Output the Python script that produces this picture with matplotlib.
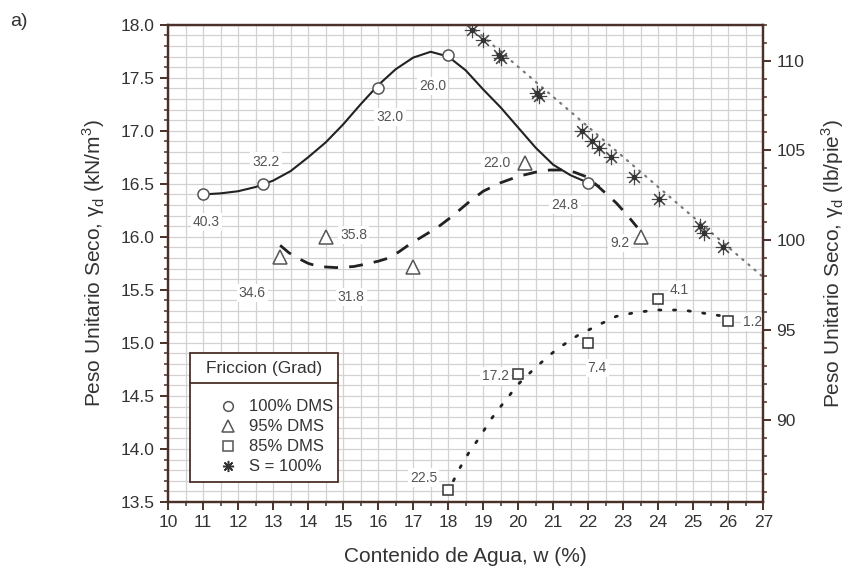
import numpy as np
import matplotlib
matplotlib.use("Agg")
from matplotlib import pyplot as plt
from matplotlib.patches import Rectangle

plt.rcParams['font.family'] = ['Liberation Sans', 'DejaVu Sans']
plt.rcParams['mathtext.fontset'] = 'custom'
plt.rcParams['mathtext.rm'] = 'Liberation Sans'

## measured points (w %, kN/m3)
w100 = [11.0, 12.7, 16.0, 18.0, 22.0]
g100 = [16.40, 16.50, 17.40, 17.71, 16.51]
lab100 = ['40.3', '32.2', '32.0', '26.0', '24.8']

w95 = [13.2, 14.5, 17.0, 20.2, 23.5]
g95 = [15.81, 16.00, 15.72, 16.70, 16.00]
lab95 = ['34.6', '35.8', '31.8', '22.0', '9.2']

w85 = [18.0, 20.0, 22.0, 24.0, 26.0]
g85 = [13.61, 14.71, 15.00, 15.41, 15.21]
lab85 = ['22.5', '17.2', '7.4', '4.1', '1.2']

wsat = [18.69, 19.0, 19.45, 19.5, 20.54, 20.6, 21.83, 22.1, 22.3, 22.66, 23.3, 24.03, 25.2, 25.3, 25.86]
gsat = [17.95, 17.86, 17.71, 17.69, 17.36, 17.33, 17.00, 16.90, 16.84, 16.75, 16.56, 16.36, 16.10, 16.04, 15.90]

## curves
c100_w = [11.0, 11.5, 12.0, 12.5, 13.0, 13.5, 14.0, 14.5, 15.0, 15.5, 16.0, 16.5, 17.0, 17.5, 18.0,
          18.5, 19.0, 19.5, 20.0, 20.5, 21.0, 21.5, 22.0, 22.3]
c100_g = [16.40, 16.41, 16.43, 16.47, 16.53, 16.62, 16.75, 16.89, 17.06, 17.25, 17.43, 17.58, 17.69, 17.745, 17.70,
          17.57, 17.39, 17.22, 17.03, 16.84, 16.68, 16.58, 16.51, 16.48]

c95_w = [13.2, 13.45, 13.7, 14.0, 14.3, 14.8, 15.3, 15.6, 16.0, 16.3, 16.6, 16.9, 17.3, 17.7, 18.1, 18.6,
         19.0, 19.5, 20.0, 20.5, 20.9, 21.3, 21.6, 22.0, 22.3, 22.8, 23.1, 23.4]
c95_g = [15.92, 15.85, 15.80, 15.75, 15.72, 15.71, 15.72, 15.74, 15.77, 15.80, 15.86, 15.93, 16.01, 16.09, 16.19, 16.33,
         16.43, 16.51, 16.57, 16.61, 16.63, 16.63, 16.61, 16.56, 16.47, 16.32, 16.21, 16.09]

c85_w = [18.15, 18.35, 18.6, 18.9, 19.2, 19.5, 20.0, 20.5, 21.1, 21.7, 22.3, 22.8, 23.4, 24.0, 24.7, 25.3, 25.9]
c85_g = [13.70, 13.83, 13.97, 14.11, 14.27, 14.40, 14.61, 14.77, 14.94, 15.07, 15.17, 15.25, 15.29, 15.31, 15.31, 15.28, 15.25]

csat_w = [18.6, 27.0]
csat_g = [18.0, 15.62]

xticks = list(range(10, 28))
yticks = [13.5, 14.0, 14.5, 15.0, 15.5, 16.0, 16.5, 17.0, 17.5, 18.0]
rticks = [90, 95, 100, 105, 110]

frame = '#4a3028'
txt = '#333333'

fig = plt.figure(figsize=(8.49, 5.75), dpi=100)
ax = fig.add_axes([0.198, 0.127, 0.701, 0.830])

ax.set_xlim(10, 27)
ax.set_ylim(13.5, 18.0)
ax.set_xticks(xticks)
ax.set_xticks(np.arange(10, 27.01, 0.5), minor=True)
ax.set_yticks(yticks)
ax.set_yticks(np.arange(13.5, 18.001, 0.1), minor=True)
ax.set_yticklabels(['%.1f' % v for v in yticks])
ax.grid(True, which='both', color='#d2d2d2', lw=0.9)
ax.set_axisbelow(True)

ax.plot(c100_w, c100_g, '-', color='#222222', lw=1.5)
ax.plot(c95_w, c95_g, color='#222222', lw=2.0, dashes=(5, 4))
ax.plot(c85_w, c85_g, color='#222222', lw=2.0, linestyle=(0, (0.8, 4.5)), dash_capstyle='round')
ax.plot(csat_w, csat_g, color='#777777', lw=1.6, linestyle=(0, (0.6, 3)), dash_capstyle='round')

ax.plot(w100, g100, 'o', mfc='white', mec='#555555', ms=8, mew=1.1, zorder=5)
ax.plot(w95, g95, '^', mfc='white', mec='#555555', ms=10, mew=1.1, zorder=5)
ax.plot(w85, g85, 's', mfc='white', mec='#333333', ms=7, mew=1.1, zorder=5)
ax.plot(wsat, gsat, marker=(8, 2, 0), ls='none', color='#444444', ms=11, mew=0.8, zorder=5)
ax.plot(wsat, gsat, 'o', ls='none', color='#333333', ms=3, zorder=5)

## labels next to points
box = dict(facecolor='white', edgecolor='none', pad=1.5)
pos100 = [(11.1, 16.14), (12.8, 16.71), (16.34, 17.13), (17.55, 17.42), (21.34, 16.30)]
pos95 = [(12.4, 15.47), (15.3, 16.02), (15.23, 15.43), (19.4, 16.70), (22.9, 15.94)]
pos85 = [(17.3, 13.73), (19.34, 14.69), (22.26, 14.76), (24.6, 15.50), (26.7, 15.20)]
for labs, pos in [(lab100, pos100), (lab95, pos95), (lab85, pos85)]:
    for s, (px, py) in zip(labs, pos):
        ax.text(px, py, s, fontsize=10, color='#555555', ha='center', va='center', bbox=box, zorder=4)

for side in ['left', 'bottom', 'top', 'right']:
    ax.spines[side].set_color(frame)
    ax.spines[side].set_linewidth(1.6)
ax.tick_params(which='major', direction='out', length=6, width=1.4, color=frame,
               labelsize=12.5, labelcolor=txt)
ax.tick_params(which='minor', direction='out', length=3, width=1.1, color=frame)

ax.set_xlabel('Contenido de Agua, w (%)', fontsize=15, color=txt, labelpad=12)
ax.set_ylabel('Peso Unitario Seco, γ$_\\mathregular{d}$ (kN/m$^\\mathregular{3}$)', fontsize=15, color=txt, labelpad=10)

ax2 = ax.twinx()
ax2.set_ylim(85.43, 112.0)
ax2.set_yticks(rticks)
ax2.set_yticks(np.arange(86, 112.01, 1), minor=True)
ax2.tick_params(which='major', direction='out', length=6, width=1.4, color=frame,
                labelsize=12.5, labelcolor=txt)
ax2.tick_params(which='minor', direction='out', length=3, width=1.1, color=frame)
for side in ['left', 'bottom', 'top', 'right']:
    ax2.spines[side].set_color(frame)
    ax2.spines[side].set_linewidth(1.6)
ax2.set_ylabel('Peso Unitario Seco, γ$_\\mathregular{d}$ (lb/pie$^\\mathregular{3}$)', fontsize=15, color=txt, labelpad=10)

## legend drawn by hand
lx0, lx1, ly0, ly1, lsep = 0.037, 0.286, 0.042, 0.312, 0.249
ax.add_patch(Rectangle((lx0, ly0), lx1 - lx0, ly1 - ly0, transform=ax.transAxes,
                       facecolor='white', edgecolor=frame, lw=1.3, zorder=6))
ax.plot([lx0, lx1], [lsep, lsep], transform=ax.transAxes, color=frame, lw=1.3, zorder=7)
ax.text((lx0 + lx1) / 2, (lsep + ly1) / 2, 'Friccion (Grad)', transform=ax.transAxes,
        ha='center', va='center', fontsize=12.5, color=txt, zorder=7)
leg_marks = [dict(marker='o', mfc='white', mec='#555555', ms=7),
             dict(marker='^', mfc='white', mec='#555555', ms=8),
             dict(marker='s', mfc='white', mec='#555555', ms=6.5),
             dict(marker=(8, 2, 0), color='#333333', ms=8)]
leg_text = ['100% DMS', '95% DMS', '85% DMS', 'S = 100%']
for i, (m, t) in enumerate(zip(leg_marks, leg_text)):
    yy = 0.201 - i * 0.042
    ax.plot([0.101], [yy], transform=ax.transAxes, ls='none', mew=1.1, zorder=7, **m)
    ax.text(0.136, yy, t, transform=ax.transAxes, ha='left', va='center', fontsize=12, color=txt, zorder=7)

fig.text(0.012, 0.962, 'a)', fontsize=14, color=txt, ha='left', va='center')

fig.savefig('out.png', dpi=100)
